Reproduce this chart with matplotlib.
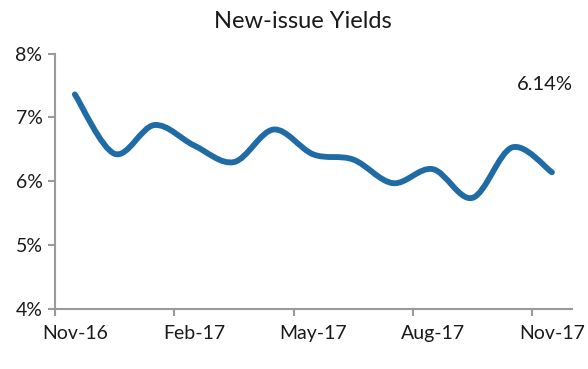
import matplotlib.pyplot as plt
import numpy as np
from matplotlib.path import Path
from matplotlib.patches import PathPatch

plt.rcParams['font.family'] = ['Lato', 'DejaVu Sans']

# monthly new-issue yields, Nov-16 .. Nov-17 (%)
months = ['Nov-16', 'Dec-16', 'Jan-17', 'Feb-17', 'Mar-17', 'Apr-17', 'May-17',
          'Jun-17', 'Jul-17', 'Aug-17', 'Sep-17', 'Oct-17', 'Nov-17']
yields = [7.36, 6.43, 6.88, 6.56, 6.30, 6.81, 6.42, 6.34, 5.97, 6.19, 5.74, 6.53, 6.14]
tick_labels = ['Nov-16', 'Feb-17', 'May-17', 'Aug-17', 'Nov-17']
last_label = '6.14%'


def smooth_path(x, y, k=1/6):
    # bezier segments through the points (Catmull-Rom style, like Excel smoothing)
    x = np.asarray(x, float)
    y = np.asarray(y, float)
    n = len(x)
    verts = [(x[0], y[0])]
    codes = [Path.MOVETO]
    for i in range(n - 1):
        i0 = max(i - 1, 0)
        i3 = min(i + 2, n - 1)
        c1 = (x[i] + (x[i + 1] - x[i0]) * k, y[i] + (y[i + 1] - y[i0]) * k)
        c2 = (x[i + 1] - (x[i3] - x[i]) * k, y[i + 1] - (y[i3] - y[i]) * k)
        verts += [c1, c2, (x[i + 1], y[i + 1])]
        codes += [Path.CURVE4] * 3
    return Path(verts, codes)


fig = plt.figure(figsize=(5.88, 3.69), dpi=100)
ax = fig.add_axes([0.0935, 0.1626, 0.879, 0.6924])

xpos = np.arange(len(months)) + 0.5
ax.add_patch(PathPatch(smooth_path(xpos, yields), facecolor='none',
                       edgecolor='#1f6ba5', lw=4.2, capstyle='round',
                       joinstyle='round'))

ax.set_xlim(0, len(months))
ax.set_ylim(4, 8)
# tick marks on category boundaries, labels on category centres
ax.set_xticks([0, 3, 6, 9, 12])
ax.set_xticklabels([])
ax.set_xticks([0.5, 3.5, 6.5, 9.5, 12.5], minor=True)
ax.set_xticklabels(tick_labels, minor=True)
ax.set_yticks([4, 5, 6, 7, 8])
ax.set_yticklabels([f'{v}%' for v in range(4, 9)])

for s in ['top', 'right']:
    ax.spines[s].set_visible(False)
for s in ['left', 'bottom']:
    ax.spines[s].set_color('#9a9a9a')
    ax.spines[s].set_linewidth(1.5)
ax.tick_params(axis='both', colors='#9a9a9a', width=1.5, length=5,
               labelsize=14, labelcolor='#1a1a1a')
ax.tick_params(axis='x', which='minor', length=0, pad=11.5,
               labelsize=14, labelcolor='#1a1a1a')
ax.tick_params(axis='y', pad=4)

fig.text(303 / 588, 1 - 22 / 369, 'New-issue Yields', ha='center', va='center',
         fontsize=17, color='#1a1a1a')
ax.text(545 / 588, 1 - 85 / 369, last_label, transform=fig.transFigure,
        ha='center', va='center', fontsize=14.5, color='#1a1a1a')

fig.savefig('out.png', dpi=100)
